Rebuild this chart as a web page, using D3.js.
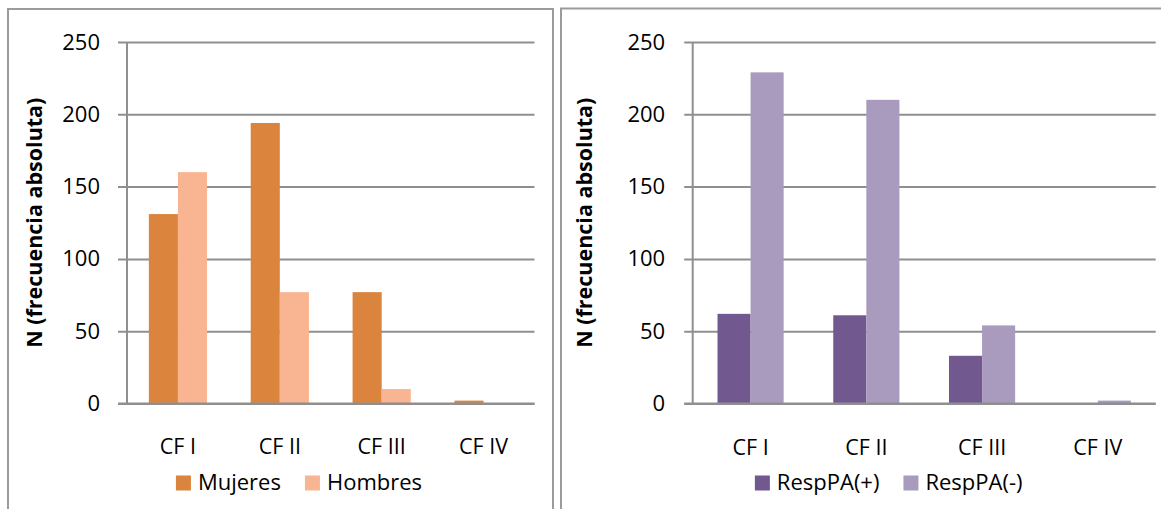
<!DOCTYPE html>
<html>
<head>
<meta charset="utf-8">
<script src="https://cdn.jsdelivr.net/npm/d3@7"></script>
<style>
  html, body { margin: 0; padding: 0; background: #fff; }
  svg { display: block; }
  text { font-family: "Open Sans", sans-serif; fill: #000; }
</style>
</head>
<body>
<svg id="chart" width="1161" height="509"></svg>
<script>
// Category labels shared by both panels
const categories = ["CF I", "CF II", "CF III", "CF IV"];

// Panel 1: distribution by sex
const sexSeries = ["Mujeres", "Hombres"];
const mujeres = [131, 194, 77, 2];
const hombres = [160, 77, 10, 0];

// Panel 2: distribution by PA response
const respSeries = ["RespPA(+)", "RespPA(-)"];
const respPos = [62, 61, 33, 0];
const respNeg = [229, 210, 54, 2];

// Value axis
const yTicks = [0, 50, 100, 150, 200, 250];
const yMax = 250;
const yTitle = "N (frecuencia absoluta)";

const svg = d3.select("#chart");
svg.append("rect").attr("width", 1161).attr("height", 509).attr("fill", "#fff");

function drawPanel(cfg) {
  const g = svg.append("g");

  // outer chart frame
  g.append("rect")
    .attr("x", cfg.box.x).attr("y", cfg.box.y)
    .attr("width", cfg.box.w).attr("height", cfg.box.h)
    .attr("fill", "none").attr("stroke", "#9b9b9b").attr("stroke-width", 2);

  const x = d3.scaleBand()
    .domain(categories)
    .range([cfg.left, cfg.right])
    .paddingInner(1.5 / 3.5)
    .paddingOuter(0.75 / 3.5);
  const xs = d3.scaleBand().domain(cfg.series).range([0, x.bandwidth()]);
  const y = d3.scaleLinear().domain([0, yMax]).range([cfg.bottom, cfg.top]);

  // gridlines + value axis
  const yAxis = d3.axisLeft(y)
    .tickValues(yTicks)
    .tickSize(0)
    .tickPadding(cfg.tickPad)
    .tickFormat(d3.format("d"));
  const ya = g.append("g")
    .attr("transform", `translate(${cfg.left - cfg.tick},0)`)
    .call(yAxis);
  ya.select(".domain").remove();
  ya.selectAll(".tick line")
    .attr("x1", 0)
    .attr("x2", (cfg.right - cfg.left) + cfg.tick)
    .attr("stroke", "#8f8f8f").attr("stroke-width", 2);
  ya.selectAll(".tick text")
    .attr("x", -cfg.tickPad)
    .style("font-size", "22px")
    .style("font-family", '"Open Sans", sans-serif')
    .attr("fill", "#000");

  // vertical axis line
  g.append("line")
    .attr("x1", cfg.left).attr("x2", cfg.left)
    .attr("y1", y(yMax)).attr("y2", y(0))
    .attr("stroke", "#8f8f8f").attr("stroke-width", 2);

  // bars
  const rows = categories.map((c, i) => ({ cat: c, vals: cfg.values.map(v => v[i]) }));
  const groups = g.append("g").selectAll("g").data(rows).join("g")
    .attr("transform", d => `translate(${x(d.cat)},0)`);
  groups.selectAll("rect")
    .data(d => d.vals.map((v, k) => ({ key: cfg.series[k], v, k })))
    .join("rect")
    .attr("x", d => xs(d.key))
    .attr("width", xs.bandwidth())
    .attr("y", d => y(d.v))
    .attr("height", d => y(0) - y(d.v))
    .attr("fill", d => cfg.colors[d.k]);

  // redraw baseline over bars
  g.append("line")
    .attr("x1", cfg.left - cfg.tick).attr("x2", cfg.right)
    .attr("y1", y(0)).attr("y2", y(0))
    .attr("stroke", "#8f8f8f").attr("stroke-width", 2);

  // category labels
  const xa = d3.axisBottom(x).tickSize(0).tickPadding(0);
  const xg = g.append("g").attr("transform", `translate(0,${cfg.labelY})`).call(xa);
  xg.select(".domain").remove();
  xg.selectAll(".tick text")
    .attr("dy", 0)
    .style("font-size", "21.5px")
    .style("font-family", '"Open Sans", sans-serif')
    .attr("fill", "#000");

  // axis title
  g.append("text")
    .attr("transform", `translate(${cfg.titleX},${(y(0) + y(yMax)) / 2}) rotate(-90)`)
    .attr("text-anchor", "middle")
    .style("font-size", "21.5px")
    .style("font-weight", "bold")
    .text(yTitle);

  // legend
  const lg = g.append("g");
  const items = cfg.series.map((s, k) => {
    const t = lg.append("text")
      .attr("y", cfg.legendY)
      .style("font-size", "22px")
      .text(s);
    return { s, k, t, w: t.node().getComputedTextLength() };
  });
  const sq = 15, sqGap = 7, itemGap = 24;
  const total = d3.sum(items, d => sq + sqGap + d.w) + itemGap * (items.length - 1);
  let cx = cfg.legendCenter - total / 2;
  items.forEach(d => {
    lg.append("rect")
      .attr("x", cx).attr("y", cfg.legendY - 14.5)
      .attr("width", sq).attr("height", sq)
      .attr("fill", cfg.colors[d.k]);
    d.t.attr("x", cx + sq + sqGap);
    cx += sq + sqGap + d.w + itemGap;
  });
}

drawPanel({
  box: { x: 8, y: 9, w: 545, h: 520 },
  left: 127, right: 534.5, top: 42, bottom: 403.5,
  tick: 9, tickPad: 18,
  series: sexSeries, values: [mujeres, hombres],
  colors: ["#db843d", "#f9b591"],
  titleX: 42, labelY: 454, legendY: 490, legendCenter: 299
});

drawPanel({
  box: { x: 561, y: 8.5, w: 620, h: 520 },
  left: 692.7, right: 1155.7, top: 42, bottom: 403.5,
  tick: 8.5, tickPad: 19,
  series: respSeries, values: [respPos, respNeg],
  colors: ["#71588f", "#a99bbd"],
  titleX: 592, labelY: 455, legendY: 490, legendCenter: 888.7
});
</script>
</body>
</html>
